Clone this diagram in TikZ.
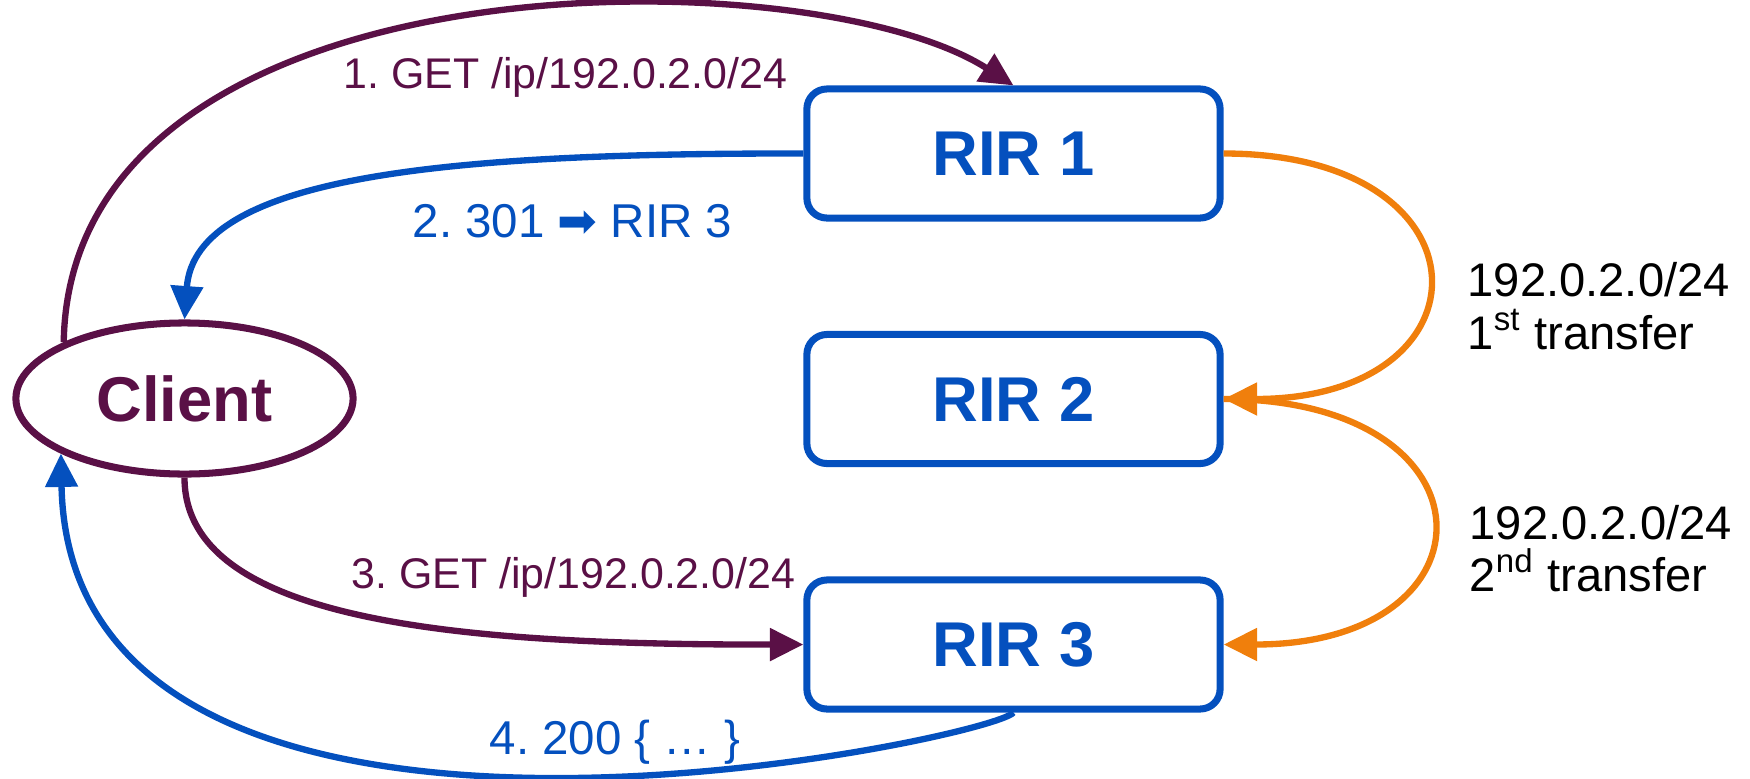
\documentclass[tikz,border=0pt]{standalone}
\usepackage{fontspec}
\setmainfont{Liberation Sans}
\newfontfamily\arrowfont{DejaVu Sans}
\usetikzlibrary{arrows.meta,shapes.geometric}
\definecolor{clientpurple}{HTML}{5A1046}
\definecolor{rirblue}{HTML}{0450BE}
\definecolor{xferorange}{HTML}{F07F0C}
\frenchspacing

\begin{document}
\begin{tikzpicture}[x=0.01cm,y=-0.01cm,
    rir/.style={draw=rirblue,line width=2pt,rounded corners=0.2cm,minimum width=4.13cm,minimum height=1.29cm,text=rirblue,font=\fontsize{18}{21}\selectfont\bfseries},
    client/.style={ellipse,draw=clientpurple,line width=2pt,minimum width=3.37cm,minimum height=1.51cm,inner sep=0pt,text=clientpurple,font=\fontsize{18}{21}\selectfont\bfseries},
    req/.style={clientpurple,line width=1.8pt,-{Triangle[length=9.5pt,width=9pt]}},
    resp/.style={rirblue,line width=1.8pt,-{Triangle[length=9.5pt,width=9pt]}},
    xfer/.style={xferorange,line width=1.8pt,-{Triangle[length=9.5pt,width=9pt]}},
    reqlbl/.style={anchor=base,text=clientpurple,font=\fontsize{12.2}{14}\selectfont},
    resplbl/.style={anchor=base,text=rirblue,font=\fontsize{13.5}{16}\selectfont},
    xferlbl/.style={anchor=base west,inner sep=0pt,font=\fontsize{13.4}{16}\selectfont}]
\useasboundingbox (0,0) rectangle (1750,778);

\node[client] (Client) at (184.5,398.5) {Client};
\node[rir] (RIR1) at (1013.5,153.5) {RIR 1};
\node[rir] (RIR2) at (1013.5,399) {RIR 2};
\node[rir] (RIR3) at (1013.5,644.5) {RIR 3};

\node[reqlbl] (get1) at (565.5,88) {1. GET /ip/192.0.2.0/24};
\node[resplbl] (moved) at (572.5,237) {2. 301 {\arrowfont ➡} RIR 3};
\node[reqlbl] (get3) at (573.5,588) {3. GET /ip/192.0.2.0/24};
\node[resplbl] (found) at (615,754) {4. 200 \{ … \}};
\node[xferlbl] (pfx1) at (1467,296) {192.0.2.0/24};
\node[xferlbl] (nth1) at (1467,349) {1\textsuperscript{st} transfer};
\node[xferlbl] (pfx2) at (1469,539) {192.0.2.0/24};
\node[xferlbl] (nth2) at (1469,591) {2\textsuperscript{nd} transfer};

\draw[req] (Client.155) .. controls (70,-50) and (810,-45) .. (RIR1.north);
\draw[resp] (RIR1.west) .. controls (450,153) and (195,175) .. (Client.north);
\draw[req] (Client.south) .. controls (184.5,620) and (450,645) .. (RIR3.west);
\draw[resp] (RIR3.south) .. controls (990,740) and (70,935) .. (Client.204);
\draw[xfer] (RIR1.east) .. controls (1496,153.5) and (1496,399) .. (RIR2.east);
\draw[xfer] (RIR2.east) .. controls (1502,399) and (1502,644.5) .. (RIR3.east);
\end{tikzpicture}
\end{document}
